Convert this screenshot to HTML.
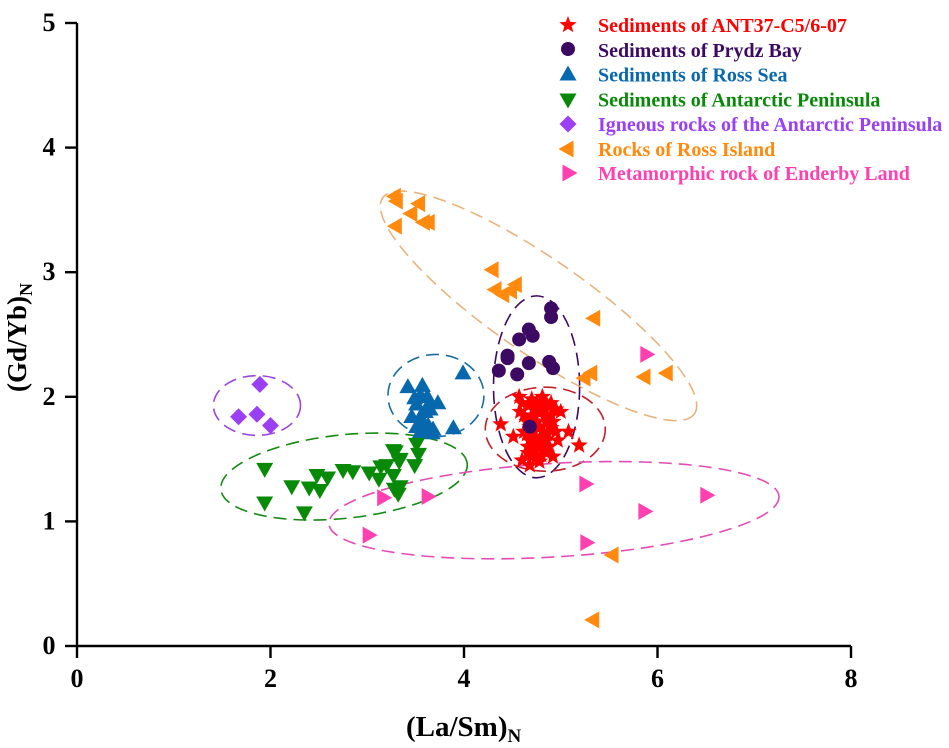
<!DOCTYPE html>
<html>
<head>
<meta charset="utf-8">
<title>Scatter of (Gd/Yb)N vs (La/Sm)N</title>
<style>
html,body{margin:0;padding:0;background:#fff;width:949px;height:748px;overflow:hidden}
svg{display:block}
text{font-family:"Liberation Serif",serif;font-weight:bold}
</style>
</head>
<body>
<svg id="chart" width="949" height="748" viewBox="0 0 949 748" xmlns="http://www.w3.org/2000/svg"></svg>
<script>
const xTicks = [0, 2, 4, 6, 8];
const yTicks = [0, 1, 2, 3, 4, 5];
const sedimentsAnt37 = [[4.38,1.78],[5.19,1.61],[5.08,1.72],[4.92,1.52],[4.51,1.68],[4.57,2.0],[4.81,2.0],[4.58,1.88],[5.0,1.88],[4.97,1.65],[4.6,1.49],[4.78,1.48],[4.68,1.45],[4.7,1.98],[4.75,1.95],[4.85,1.95],[4.7,1.85],[4.8,1.88],[4.9,1.85],[4.65,1.8],[4.75,1.8],[4.85,1.8],[4.72,1.72],[4.82,1.72],[4.9,1.75],[4.62,1.72],[4.68,1.65],[4.78,1.65],[4.85,1.65],[4.72,1.58],[4.66,1.55],[4.82,1.58],[4.75,1.52],[4.85,1.55],[4.8,1.92],[4.72,1.9],[4.88,1.92],[4.66,1.93],[4.76,1.88],[4.84,1.86],[4.68,1.76],[4.78,1.76],[4.86,1.7],[4.7,1.68],[4.8,1.68],[4.74,1.62],[4.8,1.6],[4.88,1.6],[4.66,1.6],[4.7,1.52],[4.8,1.53],[4.92,1.8],[4.62,1.85],[4.95,1.9],[4.9,1.95],[4.95,1.72],[4.6,1.95],[4.65,1.7]];
const sedimentsPrydz = [[4.9,2.71],[4.9,2.64],[4.67,2.54],[4.71,2.49],[4.57,2.46],[4.36,2.21],[4.45,2.33],[4.45,2.31],[4.55,2.18],[4.67,2.27],[4.88,2.28],[4.92,2.23],[4.68,1.76]];
const sedimentsRoss = [[3.42,2.09],[3.57,2.10],[3.99,2.20],[3.73,1.96],[3.89,1.76],[3.62,1.76],[3.51,1.77],[3.46,1.85],[3.51,1.95],[3.62,2.01],[3.65,1.91],[3.49,2.0],[3.60,1.89],[3.55,1.85],[3.67,1.72],[3.57,1.81],[3.65,1.97],[3.55,2.02],[3.63,1.78],[3.55,1.73],[3.68,1.75]];
const sedimentsPeninsula = [[1.94,1.41],[1.94,1.14],[2.35,1.06],[2.22,1.27],[2.40,1.26],[2.51,1.24],[2.48,1.36],[2.59,1.34],[2.75,1.40],[2.85,1.39],[3.02,1.38],[3.12,1.33],[3.14,1.43],[3.20,1.44],[3.27,1.56],[3.34,1.49],[3.27,1.36],[3.49,1.44],[3.53,1.53],[3.51,1.61],[3.34,1.27],[3.32,1.21],[3.29,1.55],[3.33,1.47],[3.28,1.25]];
const igneousPeninsula = [[1.89,2.10],[1.67,1.84],[1.86,1.86],[2.0,1.77]];
const rocksRossIsland = [[3.27,3.61],[3.29,3.57],[3.28,3.37],[3.44,3.47],[3.52,3.55],[3.57,3.40],[3.62,3.40],[4.28,3.02],[4.31,2.86],[4.39,2.82],[4.52,2.90],[4.47,2.85],[5.33,2.63],[5.23,2.15],[5.30,2.19],[5.85,2.16],[6.08,2.19],[5.52,0.73],[5.32,0.21]];
const metamorphicEnderby = [[5.9,2.34],[5.27,1.30],[6.52,1.21],[5.88,1.08],[5.28,0.83],[3.64,1.20],[3.18,1.19],[3.03,0.89]];
const legendLabels = ["Sediments of ANT37-C5/6-07","Sediments of Prydz Bay","Sediments of Ross Sea","Sediments of Antarctic Peninsula","Igneous rocks of the Antarctic Peninsula","Rocks of Ross Island","Metamorphic rock of Enderby Land"];

const NS = 'http://www.w3.org/2000/svg';
const svg = document.getElementById('chart');
const X0 = 77, Y0 = 646, PX_PER_X = 96.75, PX_PER_Y = 124.6;
function sx(v){ return X0 + v * PX_PER_X; }
function sy(v){ return Y0 - v * PX_PER_Y; }
function mk(tag, attrs, parent){
  const el = document.createElementNS(NS, tag);
  for (const k in attrs) el.setAttribute(k, attrs[k]);
  (parent || svg).appendChild(el);
  return el;
}
function starPoints(cx, cy, R){
  const pts = [];
  for (let i = 0; i < 10; i++){
    const r = i % 2 ? R * 0.42 : R;
    const a = -Math.PI / 2 + i * Math.PI / 5;
    pts.push((cx + r * Math.cos(a)).toFixed(1) + ',' + (cy + r * Math.sin(a)).toFixed(1));
  }
  return pts.join(' ');
}
function drawMarker(kind, cx, cy, color, parent){
  if (kind === 'circle') return mk('circle', {cx: cx, cy: cy, r: 7, fill: color}, parent);
  let p;
  if (kind === 'star') p = starPoints(cx, cy, 9);
  if (kind === 'up') p = [cx,cy-7.5, cx+8.5,cy+7.5, cx-8.5,cy+7.5].join(' ');
  if (kind === 'down') p = [cx,cy+7.5, cx+8.5,cy-7.5, cx-8.5,cy-7.5].join(' ');
  if (kind === 'diamond') p = [cx,cy-8.5, cx+8.5,cy, cx,cy+8.5, cx-8.5,cy].join(' ');
  if (kind === 'left') p = [cx-7.5,cy, cx+7.5,cy-8.5, cx+7.5,cy+8.5].join(' ');
  if (kind === 'right') p = [cx+7.5,cy, cx-7.5,cy-8.5, cx-7.5,cy+8.5].join(' ');
  return mk('polygon', {points: p, fill: color}, parent);
}

/* dashed ellipses */
const ellipseGroup = mk('g', {});


function drawEllipse(name, cxVal, cyVal, rxVal, ryVal, angle, color){
  const e = mk('ellipse', {
    cx: sx(cxVal), cy: sy(cyVal),
    rx: rxVal * PX_PER_X, ry: ryVal * PX_PER_Y,
    fill: 'none', stroke: color, 'stroke-width': 1.6, 'stroke-dasharray': '13 7',
    transform: 'rotate(' + angle + ' ' + sx(cxVal) + ' ' + sy(cyVal) + ')'
  }, ellipseGroup);
  
  
}
drawEllipse('ellipse-ross-island', 4.77, 2.73, 1.96, 0.38, 34.7, '#e8b47c');
drawEllipse('ellipse-prydz-bay', 4.75, 2.08, 0.445, 0.73, 0, '#3c0a5e');
drawEllipse('ellipse-ant37', 4.84, 1.74, 0.62, 0.337, 0, '#c4202a');
drawEllipse('ellipse-ross-sea', 3.71, 2.01, 0.496, 0.33, 0, '#1a6f9e');
drawEllipse('ellipse-igneous', 1.86, 1.93, 0.45, 0.24, 0, '#9b45e0');
drawEllipse('ellipse-peninsula', 2.76, 1.36, 1.28, 0.335, -6, '#128a12');
drawEllipse('ellipse-enderby', 4.93, 1.09, 2.33, 0.375, -3.5, '#e24cb4');

/* axes */
const axisGroup = mk('g', {stroke: '#000', 'stroke-width': 2.4, fill: 'none'});


const xAxisLine = mk('line', {x1: sx(0), y1: sy(0), x2: sx(8), y2: sy(0)}, axisGroup);


const yAxisLine = mk('line', {x1: sx(0), y1: sy(0), x2: sx(0), y2: sy(5)}, axisGroup);


xTicks.forEach(function(t){
  const tick = mk('line', {x1: sx(t), y1: sy(0), x2: sx(t), y2: sy(0) + 12}, axisGroup);
  
  
  const label = mk('text', {x: sx(t), y: 687, 'text-anchor': 'middle', 'font-size': 26, fill: '#000'});
  label.textContent = t;
  
  
});
yTicks.forEach(function(t){
  const tick = mk('line', {x1: sx(0), y1: sy(t), x2: sx(0) - 12, y2: sy(t)}, axisGroup);
  
  
  const label = mk('text', {x: 49, y: sy(t) + 8, 'text-anchor': 'middle', 'font-size': 26, fill: '#000'});
  label.textContent = t;
  
  
});

/* axis titles */
const xTitle = mk('text', {x: 406, y: 736, 'font-size': 29, fill: '#000'});


xTitle.appendChild(document.createTextNode('(La/Sm)'));
const xSub = mk('tspan', {dy: 6, 'font-size': 19}, xTitle);
xSub.textContent = 'N';
const yTitle = mk('text', {transform: 'translate(26 392) rotate(-90)', x: 0, y: 0, 'font-size': 27, fill: '#000'});


yTitle.appendChild(document.createTextNode('(Gd/Yb)'));
const ySub = mk('tspan', {dy: 6, 'font-size': 18}, yTitle);
ySub.textContent = 'N';

/* series */
function drawSeries(name, data, kind, color){
  const g = mk('g', {});
  
  
  data.forEach(function(d){
    const m = drawMarker(kind, sx(d[0]), sy(d[1]), color, g);
    
    
  });
}
drawSeries('series-rocks-ross-island', rocksRossIsland, 'left', '#ff8a0d');
drawSeries('series-metamorphic-enderby', metamorphicEnderby, 'right', '#ff40b0');
drawSeries('series-sediments-ross-sea', sedimentsRoss, 'up', '#0868ad');
drawSeries('series-sediments-peninsula', sedimentsPeninsula, 'down', '#088a08');
drawSeries('series-igneous-peninsula', igneousPeninsula, 'diamond', '#9b3ff5');
drawSeries('series-sediments-ant37', sedimentsAnt37, 'star', '#ff0000');
drawSeries('series-sediments-prydz', sedimentsPrydz, 'circle', '#3c0a62');

/* legend */
const legendKinds = ['star','circle','up','down','diamond','left','right'];
const legendColors = ['#ff0000','#3c0a62','#0868ad','#088a08','#9b3ff5','#ff8a0d','#ff40b0'];
const legendMarkerY = [25, 49, 73, 101, 124, 149, 173];
const legendTextY = [32, 57, 81.5, 106.5, 131, 156, 180];
const legendMarkerX = [568, 568, 568, 568, 568, 566, 570];
const legendGroup = mk('g', {});


legendLabels.forEach(function(label, i){
  const m = drawMarker(legendKinds[i], legendMarkerX[i], legendMarkerY[i], legendColors[i], legendGroup);
  
  
  const t = mk('text', {x: 598, y: legendTextY[i], 'font-size': 20, fill: legendColors[i]}, legendGroup);
  t.textContent = label;
  
  
});
</script>
</body>
</html>
